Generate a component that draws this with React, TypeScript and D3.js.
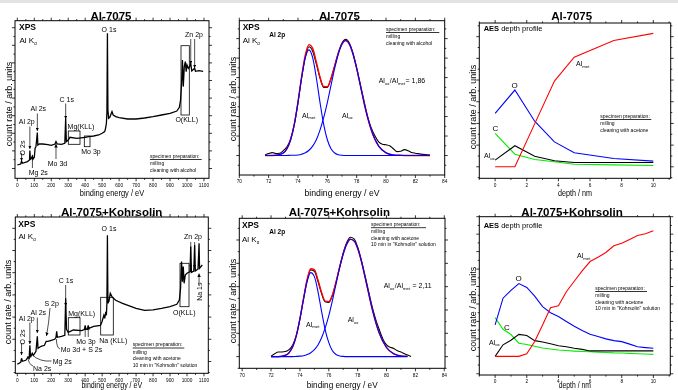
import React from 'react';
import * as d3 from 'd3';

type Pt = [number, number];
type Frame = { x0: number; x1: number; y0: number; y1: number };

const FONT = '"Liberation Sans", Arial, sans-serif';

// XPS survey spectra: [binding energy / eV, count rate / arb. units]
const surveyAlcohol: Pt[] = [
  [0, 13.3], [20, 14.3], [25, 17.3], [30, 15], [60, 16.7], [72, 18.3], [74, 27.7], [77, 19], [85, 20], [89, 21.7],
  [92, 19], [100, 21], [105, 30], [110, 31.7], [118, 45.7], [121, 33.3], [130, 34.3], [150, 34.3], [180, 33.7],
  [200, 33], [222, 34.3], [228, 36.7], [235, 34.3], [260, 34], [280, 35], [285, 60], [289, 36.7], [300, 38.3],
  [310, 41], [350, 40], [400, 41], [420, 41.7], [450, 42.3], [480, 43.3], [500, 45], [515, 46.7], [520, 50],
  [525, 55], [528, 65], [531, 145], [534, 68.3], [538, 60], [545, 61], [558, 66.7], [565, 63.3], [580, 61.7],
  [600, 60.7], [650, 59.3], [700, 59.3], [750, 60.3], [800, 61.7], [850, 63.3], [900, 65], [940, 67.3],
  [955, 71], [962, 78.3], [968, 95], [973, 118.3], [978, 91.7], [984, 111.7], [990, 116.7], [995, 106.7],
  [1000, 113.3], [1008, 110], [1015, 111.7], [1022, 115], [1028, 107.3], [1045, 110], [1050, 107],
  [1070, 107.7], [1095, 107],
];

const surveyKohrsolin: Pt[] = [
  [0, 9], [20, 11], [25, 15], [30, 12], [50, 13], [63, 16], [70, 15], [74, 28], [78, 16], [88, 20], [95, 18],
  [110, 22], [118, 37], [122, 25], [140, 27], [160, 28], [170, 32], [180, 32], [200, 33], [220, 34], [228, 36],
  [232, 42], [236, 36], [260, 37], [280, 38], [285, 75], [290, 44], [300, 41], [330, 43.3], [380, 42.7],
  [398, 44], [400, 48], [404, 44], [414, 44], [418, 48], [422, 45], [450, 47], [490, 48], [500, 52], [510, 58],
  [515, 55], [520, 60], [525, 58], [528, 70], [531, 138], [534, 70], [540, 72], [548, 80], [560, 76], [580, 73],
  [620, 70], [700, 65], [750, 63], [800, 63.5], [850, 65], [900, 66.7], [940, 69], [955, 73.3], [962, 85],
  [968, 111.7], [973, 91.7], [978, 106.7], [983, 90], [990, 98.3], [1000, 100], [1010, 101], [1018, 101.7],
  [1022, 126.7], [1026, 101], [1040, 102.3], [1045, 128.3], [1049, 102.3], [1065, 104.3], [1071, 130],
  [1074, 105], [1090, 108.3],
];

// Al 2p detail, Al-7075 (cleaned with alcohol)
const fitEnergyA = [71.75, 72, 72.5, 73, 73.25, 73.5, 73.75, 74, 74.25, 74.5, 74.75, 75, 75.25, 75.5, 75.75, 76,
  76.25, 76.5, 76.75, 77, 77.25, 77.5, 77.75, 78, 78.25, 78.5, 78.75, 79, 79.5, 80, 80.5, 81, 81.5, 82, 82.5, 83];
const alMetFitA = [0, 0, 0.01, 0.13, 0.35, 0.81, 1.6, 2.73, 3.99, 5.02, 5.42, 5.02, 3.99, 2.73, 1.6, 0.81, 0.35,
  0.13, 0.04, 0.01, 0, 0, 0, 0, 0, 0, 0, 0, 0, 0, 0, 0, 0, 0, 0, 0];
const alOxFitA = [0, 0, 0, 0, 0, 0.01, 0.01, 0.03, 0.07, 0.14, 0.27, 0.48, 0.81, 1.3, 1.94, 2.72, 3.6, 4.47, 5.21,
  5.72, 5.9, 5.72, 5.21, 4.47, 3.6, 2.72, 1.94, 1.3, 0.48, 0.14, 0.03, 0.01, 0, 0, 0, 0];
const envelopeA = [0, 0, 0.01, 0.13, 0.35, 0.82, 1.61, 2.76, 4.06, 5.16, 5.69, 5.5, 4.8, 4.03, 3.54, 3.53, 3.95,
  4.6, 5.25, 5.73, 5.9, 5.72, 5.21, 4.47, 3.6, 2.72, 1.94, 1.3, 0.48, 0.14, 0.03, 0.01, 0, 0, 0, 0];
const measuredA: Pt[] = [
  [71.75, 0.03], [72, 0.1], [72.25, 0.15], [72.5, 0.1], [72.75, 0.12], [73, 0.25], [73.25, 0.45], [73.5, 0.85],
  [73.75, 1.6], [74, 2.7], [74.25, 4.0], [74.5, 5.05], [74.75, 5.58], [75, 5.35], [75.25, 4.7], [75.5, 3.98],
  [75.75, 3.5], [76, 3.5], [76.25, 3.95], [76.5, 4.6], [76.75, 5.28], [77, 5.78], [77.25, 5.97], [77.5, 5.78],
  [77.75, 5.25], [78, 4.5], [78.25, 3.65], [78.5, 2.8], [78.75, 2.0], [79, 1.4], [79.25, 1.0], [79.5, 0.7],
  [79.75, 0.58], [80, 0.55], [80.25, 0.5], [80.5, 0.35], [80.75, 0.2], [81, 0.22], [81.25, 0.3], [81.5, 0.25],
  [81.75, 0.15], [82, 0.12], [82.5, 0.06], [83, 0.03],
];

// Al 2p detail, Al-7075 + Kohrsolin
const fitEnergyB = [72, 72.5, 73, 73.25, 73.5, 73.75, 74, 74.25, 74.5, 74.75, 75, 75.25, 75.5, 75.75, 76, 76.25,
  76.5, 76.75, 77, 77.25, 77.5, 77.75, 78, 78.25, 78.5, 78.75, 79, 79.5, 80, 80.5, 81, 81.45];
const alMetFitB = [0, 0, 0.06, 0.17, 0.42, 0.89, 1.61, 2.46, 3.22, 3.6, 3.43, 2.79, 1.94, 1.15, 0.6, 0.25, 0.09,
  0.03, 0.01, 0, 0, 0, 0, 0, 0, 0, 0, 0, 0, 0, 0, 0];
const alOxFitB = [0, 0, 0, 0, 0, 0.01, 0.02, 0.04, 0.09, 0.17, 0.3, 0.5, 0.81, 1.23, 1.76, 2.4, 3.11, 3.8, 4.4,
  4.83, 5.03, 4.96, 4.64, 4.11, 3.44, 2.74, 2.06, 1.0, 0.39, 0.12, 0.03, 0.01];
const envelopeB = [0, 0, 0.06, 0.17, 0.42, 0.9, 1.63, 2.5, 3.31, 3.77, 3.73, 3.29, 2.75, 2.38, 2.36, 2.65, 3.2,
  3.83, 4.41, 4.83, 5.03, 4.96, 4.64, 4.11, 3.44, 2.74, 2.06, 1.0, 0.39, 0.12, 0.03, 0.01];
const measuredB: Pt[] = [
  [72, 0.02], [72.25, 0.12], [72.5, 0.2], [72.75, 0.2], [73, 0.22], [73.25, 0.3], [73.5, 0.5], [73.75, 0.92],
  [74, 1.62], [74.25, 2.48], [74.5, 3.28], [74.75, 3.72], [75, 3.66], [75.25, 3.22], [75.5, 2.7], [75.75, 2.35],
  [76, 2.32], [76.25, 2.62], [76.5, 3.18], [76.75, 3.84], [77, 4.45], [77.25, 4.9], [77.5, 5.12], [77.75, 5.05],
  [78, 4.7], [78.25, 4.15], [78.5, 3.5], [78.75, 2.82], [79, 2.15], [79.25, 1.6], [79.5, 1.15], [79.75, 0.75],
  [80, 0.5], [80.25, 0.4], [80.5, 0.35], [80.75, 0.25], [81, 0.2], [81.25, 0.12], [81.5, 0.06], [81.7, 0.01],
];

// AES depth profiles
const depthA = [0, 1.25, 2.5, 3.75, 5, 7.5, 10];
const alMetA = [0, 0, 1.98, 3.95, 5.05, 5.82, 6.15];
const oxygenA = [2.46, 3.54, 2.1, 1.15, 0.65, 0.38, 0.26];
const alOxA = [0.31, 0.97, 0.49, 0.28, 0.2, 0.2, 0.2];
const carbonA = [1.54, 0.58, 0.34, 0.23, 0.12, 0.09, 0.06];

const depthB = [0, 0.5, 1, 1.5, 2, 2.5, 3, 3.5, 4, 4.5, 5, 5.5, 6, 6.5, 7, 7.5, 8, 8.5, 9, 9.5, 10];
const alMetB = [0, 0, 0, 0, 0.15, 0.85, 1.8, 2.78, 2.89, 3.7, 4.3, 4.9, 5.43, 5.68, 5.95, 6.33, 6.48, 6.7, 6.92, 7.02, 7.19];
const oxygenB = [1.8, 3.33, 3.78, 4.17, 3.95, 3.45, 2.85, 2.5, 2.28, 2.0, 1.72, 1.48, 1.26, 1.14, 1.0, 0.9, 0.84, 0.7, 0.55, 0.5, 0.46];
const alOxB = [0, 0.66, 0.92, 1.26, 1.19, 0.9, 0.82, 0.72, 0.61, 0.55, 0.46, 0.4, 0.31, 0.31, 0.31, 0.31, 0.31, 0.31, 0.31, 0.31, 0.31];
const carbonB = [2.22, 1.55, 1.25, 0.75, 0.68, 0.58, 0.48, 0.42, 0.36, 0.33, 0.3, 0.28, 0.26, 0.24, 0.22, 0.2, 0.19, 0.17, 0.15, 0.13, 0.11];

// axis ticks
const surveyTicks = [0, 100, 200, 300, 400, 500, 600, 700, 800, 900, 1000, 1100];
const surveyMinor = [50, 150, 250, 350, 450, 550, 650, 750, 850, 950, 1050];
const xpsTicks = [70, 72, 74, 76, 78, 80, 82, 84];
const xpsMinor = [71, 73, 75, 77, 79, 81, 83];
const depthTicks = [0, 2, 4, 6, 8, 10];
const depthMinor = [-1, 1, 3, 5, 7, 9, 11];

const zip = (xs: number[], ys: number[]): Pt[] => xs.map((v, i) => [v, ys[i]]);

const T = ({ x, y, s = 7, b = false, a = 'start', k = 1, r = 0, children }: any) => (
  <text transform={`translate(${x},${y}) rotate(${r}) scale(${k},1)`} fontSize={s}
    fontWeight={b ? 'bold' : 'normal'} textAnchor={a} fill="#000">{children}</text>
);

const Sub = ({ t, s = 4.3 }: { t: string; s?: number }) => (
  <>
    <tspan fontSize={s} dy={1.8}>{t}</tspan>
    <tspan fontSize={s} dy={-1.8}>{'\u200a'}</tspan>
  </>
);

const Arrow = ({ x1, y1, x2, y2 }: any) => (
  <line x1={x1} y1={y1} x2={x2} y2={y2} stroke="#000" strokeWidth={0.7} markerEnd="url(#ah)" />
);

const Box = ({ x0, x1, y0, y1 }: any) => (
  <rect x={x0} y={y0} width={x1 - x0} height={y1 - y0} fill="none" stroke="#000" strokeWidth={0.8} />
);

const Prep = ({ x, y, lines, w }: { x: number; y: number; lines: string[]; w: number }) => (
  <g>
    <T x={x} y={y} s={5}>specimen preparation:</T>
    <line x1={x} x2={x + w} y1={y + 2} y2={y + 2} stroke="#000" strokeWidth={0.8} />
    {lines.map((l, i) => <T key={i} x={x} y={y + 7.5 + i * 6.5} s={5}>{l}</T>)}
  </g>
);

function Panel({ f, x, y, xMajor, xMinor, yMajor, yMinor, title, titleX, titleY, xLabel, xLabelY, xLabelS = 9, yLabelX, yLabelCY, k, children }: any) {
  const tk: JSX.Element[] = [];
  const seg = (key: string, x1: number, y1: number, x2: number, y2: number) =>
    tk.push(<line key={key} x1={x1} y1={y1} x2={x2} y2={y2} stroke="#000" strokeWidth={0.8} />);
  xMajor.forEach((v: number, i: number) => {
    const p = x(v);
    seg('xb' + i, p, f.y1, p, f.y1 + 3);
    seg('xt' + i, p, f.y0, p, f.y0 - 3);
  });
  xMinor.forEach((v: number, i: number) => {
    const p = x(v);
    seg('xbm' + i, p, f.y1, p, f.y1 + 1.6);
    seg('xtm' + i, p, f.y0, p, f.y0 - 1.6);
  });
  yMajor.forEach((v: number, i: number) => {
    const p = y(v);
    seg('yl' + i, f.x0, p, f.x0 - 3, p);
    seg('yr' + i, f.x1, p, f.x1 + 3, p);
  });
  yMinor.forEach((v: number, i: number) => {
    const p = y(v);
    seg('ylm' + i, f.x0, p, f.x0 - 1.6, p);
    seg('yrm' + i, f.x1, p, f.x1 + 1.6, p);
  });
  const clipId = 'c' + Math.round(f.x0) + '_' + Math.round(f.y0);
  return (
    <g>
      <defs>
        <clipPath id={clipId}>
          <rect x={f.x0} y={f.y0 - 20} width={f.x1 - f.x0} height={f.y1 - f.y0 + 20} />
        </clipPath>
      </defs>
      <g clipPath={`url(#${clipId})`}>{children}</g>
      <rect x={f.x0} y={f.y0} width={f.x1 - f.x0} height={f.y1 - f.y0} fill="none" stroke="#000" strokeWidth={1} />
      {tk}
      {xMajor.map((v: number) => (
        <T key={v} x={x(v)} y={f.y1 + 8.3} s={5.6} a="middle" k={0.85}>{v}</T>
      ))}
      <T x={titleX} y={titleY} s={11.5} b a="middle">{title}</T>
      <T x={(f.x0 + f.x1) / 2} y={xLabelY} s={xLabelS} a="middle" k={k}>{xLabel}</T>
      <text transform={`translate(${yLabelX},${yLabelCY}) rotate(-90)`} fontSize={9} textAnchor="middle">
        count rate / arb. units
      </text>
    </g>
  );
}

const AlKa = ({ x, y }: any) => (
  <text x={x} y={y} fontSize={8}>Al K<tspan fontSize={4.5} dy={2.5}>α</tspan></text>
);

export default function App() {
  // ---------- frames & scales ----------
  const f1: Frame = { x0: 15, x1: 209, y0: 20.7, y1: 178.3 };
  const x1 = d3.scaleLinear().domain([-13.6, 1129.6]).range([f1.x0, f1.x1]);
  const y1 = d3.scaleLinear().domain([0, 157.6]).range([f1.y1, f1.y0]);

  const f4: Frame = { x0: 15.3, x1: 208.3, y0: 217, y1: 373.3 };
  const x4 = d3.scaleLinear().domain([-11.8, 1125.5]).range([f4.x0, f4.x1]);
  const y4 = d3.scaleLinear().domain([0, 156.3]).range([f4.y1, f4.y0]);

  const f2: Frame = { x0: 239.3, x1: 444.7, y0: 20.7, y1: 175 };
  const x2 = d3.scaleLinear().domain([70, 84]).range([f2.x0, f2.x1]);
  const y2 = d3.scaleLinear().domain([-1, 6.92]).range([f2.y1, f2.y0]);

  const f5: Frame = { x0: 239.3, x1: 445, y0: 218.3, y1: 368.3 };
  const x5 = d3.scaleLinear().domain([69.8, 84.05]).range([f5.x0, f5.x1]);
  const y5 = d3.scaleLinear().domain([-0.5, 5.93]).range([f5.y1, f5.y0]);

  const f3: Frame = { x0: 479.3, x1: 670.7, y0: 23, y1: 178.3 };
  const x3 = d3.scaleLinear().domain([-1, 11.1]).range([f3.x0, f3.x1]);
  const y3 = d3.scaleLinear().domain([-0.53, 6.63]).range([f3.y1, f3.y0]);

  const f6: Frame = { x0: 479.3, x1: 670.3, y0: 216.7, y1: 375 };
  const x6 = d3.scaleLinear().domain([-1, 11.07]).range([f6.x0, f6.x1]);
  const y6 = d3.scaleLinear().domain([-1.07, 8.0]).range([f6.y1, f6.y0]);

  const lin = (x: any, y: any) => d3.line<Pt>().x(d => x(d[0])).y(d => y(d[1]));
  const smooth = (x: any, y: any) => d3.line<Pt>().x(d => x(d[0])).y(d => y(d[1])).curve(d3.curveMonotoneX);

  const steps = (a: number, b: number) => d3.range(a, b + 0.001, 1);

  const s2 = smooth(x2, y2);
  const s5 = smooth(x5, y5);
  const l3 = lin(x3, y3);
  const l6 = lin(x6, y6);

  return (
    <div style={{ position: 'absolute', left: 0, top: 0 }}>
      <svg width={678} height={390} style={{ display: 'block', background: '#fff', fontFamily: FONT }}>
        <defs>
          <marker id="ah" viewBox="0 0 6 6" refX={6} refY={3} markerWidth={3.5} markerHeight={3.5}
            markerUnits="userSpaceOnUse" orient="auto">
            <path d="M0,0L6,3L0,6z" fill="#000" />
          </marker>
        </defs>
        <rect x={0} y={0} width={678} height={3} fill="#e2e2e2" />
        <g opacity={0.999}>

        {/* ---------- survey, Al-7075 ---------- */}
        <Panel f={f1} x={x1} y={y1} xMajor={surveyTicks} xMinor={surveyMinor}
          yMajor={d3.range(9.8, 157, 17.6)} yMinor={d3.range(18.6, 157, 17.6)}
          title="Al-7075" titleX={111} titleY={19.5} xLabel="binding energy / eV" xLabelY={195.5}
          yLabelX={11.5} yLabelCY={104} k={0.83}>
          <path d={lin(x1, y1)(surveyAlcohol) ?? ''} fill="none" stroke="#000" strokeWidth={1.3} />
        </Panel>
        <T x={19} y={30} s={8.5} b>XPS</T>
        <AlKa x={19.5} y={42.5} />
        <T x={109} y={32} a="middle">O 1s</T>
        <T x={194} y={36.5} a="middle">Zn 2p</T>
        <Arrow x1={x1(1022)} y1={39} x2={x1(1022)} y2={64} />
        <Arrow x1={x1(1045)} y1={39} x2={x1(1045)} y2={68} />
        <Box x0={181} x1={189.3} y0={45.7} y1={115} />
        <T x={186.7} y={121.5} a="middle">O(KLL)</T>
        <T x={66.7} y={101.5} a="middle">C 1s</T>
        <Arrow x1={x1(285)} y1={103.5} x2={x1(285)} y2={119} />
        <T x={38.3} y={111} a="middle">Al 2s</T>
        <Arrow x1={x1(118)} y1={113.5} x2={x1(118)} y2={131} />
        <T x={26.7} y={124} a="middle">Al 2p</T>
        <Arrow x1={x1(74)} y1={126.5} x2={x1(74)} y2={149} />
        <T x={24.5} y={148} a="middle" r={-90}>O 2s</T>
        <Arrow x1={x1(25)} y1={153} x2={x1(25)} y2={161} />
        <T x={38.3} y={174.5} a="middle">Mg 2s</T>
        <Arrow x1={x1(89)} y1={168} x2={x1(89)} y2={155} />
        <T x={57.5} y={165.5} a="middle">Mo 3d</T>
        <Arrow x1={x1(228)} y1={159} x2={x1(228)} y2={144} />
        <Box x0={68.3} x1={80} y0={131} y1={144.3} />
        <T x={81} y={129} a="middle">Mg(KLL)</T>
        <Box x0={84.3} x1={90} y0={136} y1={146.7} />
        <T x={91} y={154} a="middle">Mo 3p</T>
        <Prep x={150} y={157.5} w={51.7} lines={['milling', 'cleaning with alcohol']} />

        {/* ---------- Al 2p, Al-7075 ---------- */}
        <Panel f={f2} x={x2} y={y2} xMajor={xpsTicks} xMinor={xpsMinor}
          yMajor={steps(0, 6)} yMinor={d3.range(-0.5, 6.9, 1)}
          title="Al-7075" titleX={339.5} titleY={19.5} xLabel="binding energy / eV" xLabelY={195.5}
          yLabelX={236} yLabelCY={99} k={0.97}>
          <path d={s2(measuredA) ?? ''} fill="none" stroke="#000" strokeWidth={1.1} />
          <path d={s2(zip(fitEnergyA, envelopeA)) ?? ''} fill="none" stroke="#ff0000" strokeWidth={1.4} />
          <path d={s2(zip(fitEnergyA, alMetFitA)) ?? ''} fill="none" stroke="#0000ff" strokeWidth={1.1} />
          <path d={s2(zip(fitEnergyA, alOxFitA)) ?? ''} fill="none" stroke="#0000ff" strokeWidth={1.1} />
        </Panel>
        <T x={242.7} y={30} s={8.5} b>XPS</T>
        <AlKa x={242.7} y={42.5} />
        <T x={269.3} y={37.3} s={6.5} b>Al 2p</T>
        <Prep x={386} y={30.5} w={53.3} lines={['milling', 'cleaning with alcohol']} />
        <text x={378.7} y={83} fontSize={7}>Al<Sub t="ox" />/Al<Sub t="met" />= 1,86</text>
        <text x={302} y={117.5} fontSize={7}>Al<Sub t="met" /></text>
        <text x={342} y={117.5} fontSize={7}>Al<Sub t="ox" /></text>

        {/* ---------- AES, Al-7075 ---------- */}
        <Panel f={f3} x={x3} y={y3} xMajor={depthTicks} xMinor={depthMinor}
          yMajor={steps(0, 6)} yMinor={d3.range(-0.5, 6.6, 1)}
          title="Al-7075" titleX={571.7} titleY={19.5} xLabel="depth / nm" xLabelY={195.5}
          yLabelX={475.5} yLabelCY={107} k={0.8}>
          <path d={l3(zip(depthA, carbonA)) ?? ''} fill="none" stroke="#00ee00" strokeWidth={1.1} />
          <path d={l3(zip(depthA, alOxA)) ?? ''} fill="none" stroke="#000" strokeWidth={1.1} />
          <path d={l3(zip(depthA, oxygenA)) ?? ''} fill="none" stroke="#0000ff" strokeWidth={1.1} />
          <path d={l3(zip(depthA, alMetA)) ?? ''} fill="none" stroke="#ff0000" strokeWidth={1.1} />
        </Panel>
        <text x={483.7} y={31} fontSize={7.5}><tspan fontWeight="bold">AES</tspan> depth profile</text>
        <T x={514.7} y={88} s={8} a="middle">O</T>
        <T x={495.3} y={131} s={8} a="middle">C</T>
        <text x={484} y={158} fontSize={7}>Al<Sub t="ox" /></text>
        <text x={576} y={66} fontSize={7}>Al<Sub t="met" /></text>
        <Prep x={600.3} y={117.5} w={51} lines={['milling', 'cleaning with acetone']} />

        {/* ---------- survey, Al-7075+Kohrsolin ---------- */}
        <Panel f={f4} x={x4} y={y4} xMajor={surveyTicks} xMinor={surveyMinor}
          yMajor={d3.range(11.8, 156, 22.2)} yMinor={d3.range(0.7, 156, 22.2)}
          title="Al-7075+Kohrsolin" titleX={111.7} titleY={215.5} xLabel="binding energy / eV" xLabelY={388}
          xLabelS={8.5} yLabelX={10.5} yLabelCY={302} k={0.83}>
          <path d={lin(x4, y4)(surveyKohrsolin) ?? ''} fill="none" stroke="#000" strokeWidth={1.3} />
        </Panel>
        <T x={18.3} y={226.7} s={8.5} b>XPS</T>
        <AlKa x={18.5} y={238.5} />
        <T x={109} y={231} a="middle">O 1s</T>
        <T x={193} y={239} a="middle">Zn 2p</T>
        <Arrow x1={x4(1022)} y1={242} x2={x4(1022)} y2={268} />
        <Arrow x1={x4(1045)} y1={242} x2={x4(1045)} y2={268} />
        <T x={201.5} y={291.7} a="middle" r={-90}>Na 1s</T>
        <Arrow x1={x4(1071)} y1={284} x2={x4(1071)} y2={273.5} />
        <Box x0={180} x1={189} y0={263.3} y1={306.7} />
        <T x={184.3} y={315} a="middle">O(KLL)</T>
        <Box x0={100.7} x1={113.3} y0={297.3} y1={335} />
        <T x={113.3} y={343} a="middle">Na (KLL)</T>
        <T x={66} y={282.5} a="middle">C 1s</T>
        <Arrow x1={x4(285)} y1={285} x2={x4(285)} y2={306} />
        <T x={51.7} y={305.5} a="middle">S 2p</T>
        <path d="M50,308 Q49,322 46.5,336" fill="none" stroke="#000" strokeWidth={0.7} markerEnd="url(#ah)" />
        <T x={38.3} y={315} a="middle">Al 2s</T>
        <Arrow x1={x4(118)} y1={317.5} x2={x4(118)} y2={333} />
        <T x={26.7} y={320.5} a="middle">Al 2p</T>
        <Arrow x1={x4(74)} y1={322.5} x2={x4(74)} y2={344} />
        <T x={24.5} y={337} a="middle" r={-90}>O 2s</T>
        <Arrow x1={x4(25)} y1={343} x2={x4(25)} y2={355} />
        <Box x0={68.3} x1={80} y0={317.7} y1={335} />
        <T x={81.7} y={315.5} a="middle">Mg(KLL)</T>
        <T x={86} y={343.5} a="middle">Mo 3p</T>
        <Arrow x1={x4(400)} y1={337} x2={x4(400)} y2={326} />
        <Arrow x1={x4(418)} y1={337} x2={x4(418)} y2={326} />
        <T x={60.7} y={352} s={7}>Mo 3d + S 2s</T>
        <path d={`M${x4(230)},339 Q${x4(232)},348 60,349`} fill="none" stroke="#000" strokeWidth={0.7} />
        <T x={52.7} y={363.5}>Mg 2s</T>
        <path d={`M${x4(88)},355 Q40,362 51.5,361`} fill="none" stroke="#000" strokeWidth={0.7} />
        <T x={33} y={370.5}>Na 2s</T>
        <path d={`M${x4(63)},356 Q28,364 33,366`} fill="none" stroke="#000" strokeWidth={0.7} />
        <Prep x={132.7} y={346} w={51.6}
          lines={['milling', 'cleaning with acetone', '10 min in "Kohrsolin" solution']} />

        {/* ---------- Al 2p, Al-7075+Kohrsolin ---------- */}
        <Panel f={f5} x={x5} y={y5} xMajor={xpsTicks} xMinor={xpsMinor}
          yMajor={steps(0, 5)} yMinor={d3.range(-0.5, 5.9, 1)}
          title="Al-7075+Kohrsolin" titleX={339.3} titleY={215.5} xLabel="binding energy / eV" xLabelY={388}
          xLabelS={8.5} yLabelX={235.5} yLabelCY={301} k={0.97}>
          <path d={s5(measuredB) ?? ''} fill="none" stroke="#000" strokeWidth={1.1} />
          <path d={s5(zip(fitEnergyB, envelopeB)) ?? ''} fill="none" stroke="#ff0000" strokeWidth={1.4} />
          <path d={s5(zip(fitEnergyB, alMetFitB)) ?? ''} fill="none" stroke="#0000ff" strokeWidth={1.1} />
          <path d={s5(zip(fitEnergyB, alOxFitB)) ?? ''} fill="none" stroke="#0000ff" strokeWidth={1.1} />
        </Panel>
        <T x={242} y={228.3} s={8.5} b>XPS</T>
        <AlKa x={242} y={241.7} />
        <T x={269.3} y={233.5} s={6.5} b>Al 2p</T>
        <Prep x={371} y={225.7} w={55}
          lines={['milling', 'cleaning with acetone', '10 min in "Kohrsolin" solution']} />
        <text x={383.7} y={288} fontSize={7}>Al<Sub t="ox" />/Al<Sub t="met" /> = 2,11</text>
        <text x={306} y={326.5} fontSize={7}>Al<Sub t="met" /></text>
        <text x={347.7} y={322} fontSize={7}>Al<Sub t="ox" /></text>

        {/* ---------- AES, Al-7075+Kohrsolin ---------- */}
        <Panel f={f6} x={x6} y={y6} xMajor={depthTicks} xMinor={depthMinor}
          yMajor={steps(-1, 8)} yMinor={d3.range(-0.5, 7.9, 1)}
          title="Al-7075+Kohrsolin" titleX={572} titleY={215.5} xLabel="depth / nm" xLabelY={388}
          xLabelS={8.5} yLabelX={475.5} yLabelCY={309} k={0.8}>
          <path d={l6(zip(depthB, carbonB)) ?? ''} fill="none" stroke="#00ee00" strokeWidth={1.1} />
          <path d={l6(zip(depthB, alOxB)) ?? ''} fill="none" stroke="#000" strokeWidth={1.1} />
          <path d={l6(zip(depthB, oxygenB)) ?? ''} fill="none" stroke="#0000ff" strokeWidth={1.1} />
          <path d={l6(zip(depthB, alMetB)) ?? ''} fill="none" stroke="#ff0000" strokeWidth={1.1} />
        </Panel>
        <text x={483.7} y={228.3} fontSize={7.5}><tspan fontWeight="bold">AES</tspan> depth profile</text>
        <T x={518.7} y={280.5} s={8} a="middle">O</T>
        <T x={507} y={329.5} s={8} a="middle">C</T>
        <text x={489} y={344.5} fontSize={7}>Al<Sub t="ox" /></text>
        <text x={577} y={258} fontSize={7}>Al<Sub t="met" /></text>
        <Prep x={595.3} y={289.5} w={51.7}
          lines={['milling', 'cleaning with acetone', '10 min in "Kohrsolin" solution']} />
        </g>
      </svg>
    </div>
  );
}
